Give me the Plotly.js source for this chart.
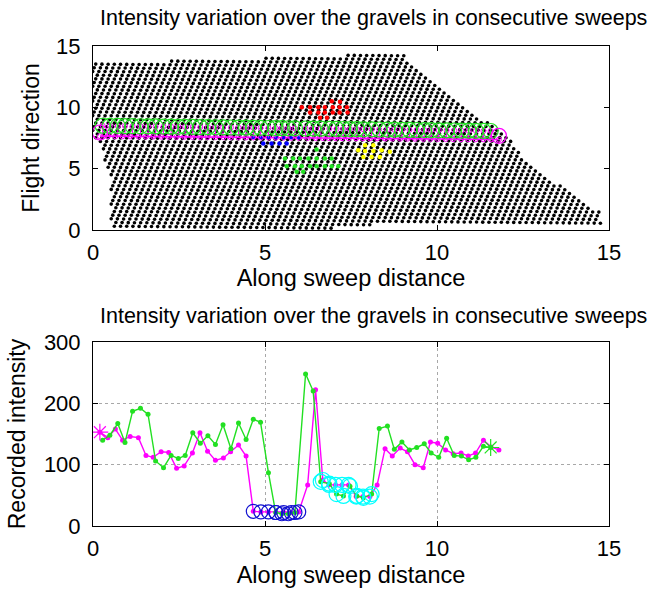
<!DOCTYPE html>
<html>
<head>
<meta charset="utf-8">
<script src="https://cdn.plot.ly/plotly-3.0.1.min.js"></script>
<style>html,body{margin:0;padding:0;background:#fff;}#chart{width:663px;height:592px;}</style>
</head>
<body>
<div id="chart"></div>
<script>
// ---------------- DATA ----------------
// Bottom panel: recorded intensity along the two consecutive sweeps
const magentaX = [0.2, 0.43, 0.65, 0.86, 1.08, 1.32, 1.54, 1.75, 1.98, 2.2, 2.43, 2.65, 2.89, 3.11, 3.33, 3.56, 3.79, 4.0, 4.23, 4.45, 4.66, 4.88, 5.1, 5.32, 5.54, 5.76, 5.98, 6.24, 6.47, 6.68, 6.86, 7.05, 7.24, 7.43, 7.65, 7.85, 8.05, 8.26, 8.49, 8.7, 8.93, 9.14, 9.36, 9.6, 9.81, 10.02, 10.25, 10.47, 10.7, 10.91, 11.12, 11.35, 11.57, 11.8];
const magentaV = [153, 144, 158, 140, 146, 144, 115, 112, 121, 120, 94, 98, 119, 152, 122, 107, 111, 121, 132, 114, 24, 23, 23, 22, 22, 22, 23, 67, 222, 75, 67, 67, 67, 67, 48, 48, 48, 67, 126, 114, 127, 121, 100, 95, 137, 135, 124, 118, 119, 114, 119, 140, 129, 124];
const greenX = [0.28, 0.49, 0.72, 0.93, 1.15, 1.38, 1.6, 1.82, 2.05, 2.27, 2.48, 2.68, 2.9, 3.12, 3.34, 3.56, 3.78, 4.01, 4.23, 4.45, 4.66, 4.87, 5.1, 5.31, 5.49, 5.68, 5.87, 6.18, 6.4, 6.62, 6.87, 7.08, 7.28, 7.47, 7.67, 7.86, 8.1, 8.32, 8.56, 8.76, 8.98, 9.2, 9.41, 9.63, 9.83, 10.05, 10.28, 10.5, 10.71, 10.92, 11.13, 11.35, 11.56];
const greenV = [140, 148, 167, 136, 187, 192, 182, 106, 95, 115, 110, 115, 152, 135, 147, 133, 165, 126, 168, 141, 174, 169, 87, 22, 20, 20, 22, 248, 220, 72, 69, 52, 49, 65, 49, 46, 52, 159, 163, 125, 137, 124, 128, 134, 119, 112, 143, 115, 114, 108, 112, 130, 128];
// indices of the points marked with blue / cyan circles
const blueMagentaIdx = [20, 21, 22, 23, 24, 25, 26];
const blueGreenIdx = [23, 24, 25, 26];
const cyanMagentaIdx = [29, 30, 31, 32, 33, 34, 35, 36];
const cyanGreenIdx = [29, 30, 31, 32, 33, 34, 35, 36];

// Top panel: outline of the scanned point cloud and its sampling
const cloudOutlineX = [0.0, 0.05, 2.0, 5.0, 7.5, 9.0, 9.3, 10.3, 11.5, 12.2, 12.8, 13.8, 14.75, 14.75, 8.5, 7.2, 4.1, 0.6, 0.5, 0.5, 0.3, 0.15, -0.05, -0.05];
const cloudOutlineY = [13.2, 13.6, 13.75, 14.0, 14.25, 14.35, 13.5, 11.1, 8.7, 7.1, 4.9, 3.3, 1.4, 0.55, 0.55, 0.15, 0.1, 0.15, 1.1, 4.2, 6.2, 7.2, 8.0, 13.0];
const cloudSpacing = [0.18, 0.3];     // along-sweep spacing, sweep-to-sweep spacing
const sweepTilt = -0.025;             // y drift per unit along-sweep distance

// sweep rows drawn with circles (start / end y)
const greenRowY = [8.5, 8.07];        // at greenX[0], greenX[last]
const magentaRowY = [7.65, 7.38];     // at magentaX[0], magentaX[last]

// coloured patches of the point cloud
const redX = [6.94, 7.18, 6.07, 6.31, 6.55, 6.74, 6.97, 7.17, 7.38, 6.31, 6.55, 6.74, 6.97, 7.17, 7.4, 6.6, 6.8];
const redY = [10.5, 10.45, 10.0, 10.0, 10.0, 10.0, 10.0, 10.0, 10.0, 9.57, 9.57, 9.57, 9.57, 9.57, 9.57, 9.16, 9.16];
const greenPatchX = [6.5, 5.58, 5.82, 6.02, 6.26, 6.5, 6.74, 6.94, 5.63, 5.87, 6.07, 6.31, 6.5, 6.74, 6.94, 7.13, 5.92, 6.11];
const greenPatchY = [6.56, 5.83, 5.83, 5.83, 5.83, 5.83, 5.83, 5.83, 5.2, 5.2, 5.2, 5.2, 5.2, 5.2, 5.2, 5.2, 4.74, 4.74];
const yellowX = [7.91, 8.15, 7.71, 7.91, 8.15, 8.39, 8.63, 7.86, 8.1, 8.34];
const yellowY = [6.91, 6.91, 6.5, 6.45, 6.45, 6.5, 6.37, 5.96, 5.96, 5.96];
const blueX = [4.95, 5.19, 5.42, 5.63];
const blueY = [7.05, 7.05, 7.05, 7.05];

const xTicks = [0, 5, 10, 15];
const yTicksTop = [0, 5, 10, 15];
const yTicksBottom = [0, 100, 200, 300];
const titleText = 'Intensity variation over the gravels in consecutive sweeps';

// ---------------- BUILD ----------------
function inside(px, py, xs, ys) {
  let c = false;
  for (let i = 0, j = xs.length - 1; i < xs.length; j = i++) {
    if (((ys[i] > py) !== (ys[j] > py)) &&
        (px < (xs[j] - xs[i]) * (py - ys[i]) / (ys[j] - ys[i]) + xs[i])) c = !c;
  }
  return c;
}
const cloudX = [], cloudY = [];
const [dx, dy] = cloudSpacing;
for (let k = 0; k < 60; k++) {
  const y0 = 0.15 + k * dy;
  const off = (k * 0.045) % dx;
  for (let x = -0.1 + off; x <= 15; x += dx) {
    const y = y0 + sweepTilt * (x - 7);
    if (inside(x, y, cloudOutlineX, cloudOutlineY)) { cloudX.push(x); cloudY.push(y); }
  }
}
function rowY(xs, ends) {
  const x0 = xs[0], x1 = xs[xs.length - 1];
  return xs.map(x => ends[0] + (ends[1] - ends[0]) * (x - x0) / (x1 - x0));
}
const gRowY = rowY(greenX, greenRowY);
const mRowY = rowY(magentaX, magentaRowY);
const mx0 = magentaX[0], mx1 = magentaX[magentaX.length - 1];
const stemLen = greenX.map((x, i) => gRowY[i] - (magentaRowY[0] + (magentaRowY[1] - magentaRowY[0]) * (x - mx0) / (mx1 - mx0)));

const MAG = '#ff00ff', GRN = '#22e022', BLU = '#1010d0', CYN = '#00ffff';
const pick = (arr, idx) => idx.map(i => arr[i]);

const traces = [
  // ---- top panel ----
  {x: cloudX, y: cloudY, type: 'scatter', mode: 'markers', xaxis: 'x', yaxis: 'y',
   marker: {color: '#000', size: 3.6}, hoverinfo: 'skip'},
  {x: redX, y: redY, type: 'scatter', mode: 'markers', marker: {color: '#ff0000', size: 4.5}},
  {x: greenPatchX, y: greenPatchY, type: 'scatter', mode: 'markers', marker: {color: '#22e022', size: 4.5}},
  {x: yellowX, y: yellowY, type: 'scatter', mode: 'markers', marker: {color: '#ffff00', size: 4.5}},
  {x: blueX, y: blueY, type: 'scatter', mode: 'markers', marker: {color: '#0000ff', size: 4.5}},
  {x: magentaX, y: mRowY, type: 'scatter', mode: 'lines+markers',
   line: {color: MAG, width: 1.6}, marker: {symbol: 'circle-open', color: MAG, size: 5, line: {width: 1}}},
  {x: pick(magentaX, blueMagentaIdx), y: pick(mRowY, blueMagentaIdx), type: 'scatter', mode: 'markers',
   marker: {color: '#0000ff', size: 3.5}},
  {x: greenX, y: gRowY, type: 'scatter', mode: 'markers',
   marker: {symbol: 'circle-open', color: MAG, size: 5, line: {width: 1}},
   error_y: {type: 'data', symmetric: false, array: greenX.map(() => 0), arrayminus: stemLen, color: MAG, thickness: 1, width: 0}},
  {x: greenX, y: gRowY, type: 'scatter', mode: 'markers',
   marker: {symbol: 'circle-open', color: GRN, size: 15, line: {width: 1.2}}},
  {x: [magentaX[0], magentaX[magentaX.length - 1]], y: [mRowY[0] + 0.3, mRowY[mRowY.length - 1] + 0.3],
   type: 'scatter', mode: 'markers', marker: {symbol: 'circle-open', color: MAG, size: 15, line: {width: 1.2}}},
  // ---- bottom panel ----
  {x: magentaX, y: magentaV, type: 'scatter', mode: 'lines+markers', xaxis: 'x2', yaxis: 'y2',
   line: {color: MAG, width: 1.4}, marker: {color: MAG, size: 5}},
  {x: greenX, y: greenV, type: 'scatter', mode: 'lines+markers', xaxis: 'x2', yaxis: 'y2',
   line: {color: GRN, width: 1.4}, marker: {color: GRN, size: 5}},
  {x: pick(magentaX, blueMagentaIdx).concat(pick(greenX, blueGreenIdx)),
   y: pick(magentaV, blueMagentaIdx).concat(pick(greenV, blueGreenIdx)),
   type: 'scatter', mode: 'markers', xaxis: 'x2', yaxis: 'y2',
   marker: {symbol: 'circle-open', color: BLU, size: 14, line: {width: 1.2}}},
  {x: pick(magentaX, cyanMagentaIdx).concat(pick(greenX, cyanGreenIdx)),
   y: pick(magentaV, cyanMagentaIdx).concat(pick(greenV, cyanGreenIdx)),
   type: 'scatter', mode: 'markers', xaxis: 'x2', yaxis: 'y2',
   marker: {symbol: 'circle-open', color: CYN, size: 15, line: {width: 1.2}}},
  {x: [magentaX[0]], y: [magentaV[0]], type: 'scatter', mode: 'markers', xaxis: 'x2', yaxis: 'y2',
   marker: {symbol: 'asterisk-open', color: MAG, size: 14, line: {color: MAG, width: 1.2}}},
  {x: [greenX[greenX.length - 1]], y: [greenV[greenV.length - 1]], type: 'scatter', mode: 'markers', xaxis: 'x2', yaxis: 'y2',
   marker: {symbol: 'asterisk-open', color: GRN, size: 14, line: {color: GRN, width: 1.2}}}
];

const W = 663, H = 592;
const baseAxis = {
  ticks: 'inside', ticklen: 5, tickwidth: 1, tickcolor: '#000', showline: true, mirror: 'allticks',
  linecolor: '#000', linewidth: 1, zeroline: false, automargin: false,
  tickfont: {size: 22, color: '#000'}
};
const xLab = {ticklabelstandoff: 3};
const yLab = {ticklabelstandoff: 7};
const gridOn = {showgrid: true, gridcolor: '#a8a8a8', griddash: 'dot', gridwidth: 1};

const layout = {
  width: W, height: H, margin: {l: 0, r: 0, t: 0, b: 0},
  paper_bgcolor: '#fff', plot_bgcolor: '#fff', showlegend: false, hovermode: false,
  font: {family: 'Liberation Sans, Arial, sans-serif', size: 22, color: '#000'},
  xaxis: Object.assign({}, baseAxis, xLab, {domain: [93 / W, 609 / W], range: [0, 15], anchor: 'y', tickvals: xTicks, showgrid: false,
    title: {text: 'Along sweep distance', font: {size: 23.5}, standoff: 4}}),
  yaxis: Object.assign({}, baseAxis, yLab, {domain: [(H - 230) / H, (H - 46) / H], range: [0, 15], anchor: 'x', tickvals: yTicksTop, showgrid: false,
    title: {text: 'Flight direction', font: {size: 23}, standoff: 10}}),
  xaxis2: Object.assign({}, baseAxis, xLab, gridOn, {domain: [93 / W, 609 / W], range: [0, 15], anchor: 'y2', tickvals: xTicks,
    title: {text: 'Along sweep distance', font: {size: 23.5}, standoff: 6}}),
  yaxis2: Object.assign({}, baseAxis, yLab, gridOn, {domain: [(H - 526) / H, (H - 342) / H], range: [0, 300], anchor: 'x2', tickvals: yTicksBottom,
    title: {text: 'Recorded intensity', font: {size: 23}, standoff: 11}}),
  annotations: [
    {text: titleText, xref: 'paper', yref: 'paper', x: 373 / W, y: 1 - 18 / H, xanchor: 'center', yanchor: 'middle', showarrow: false, font: {size: 21.5}},
    {text: titleText, xref: 'paper', yref: 'paper', x: 373 / W, y: 1 - 316 / H, xanchor: 'center', yanchor: 'middle', showarrow: false, font: {size: 21.5}}
  ]
};

Plotly.newPlot('chart', traces, layout, {staticPlot: true, displayModeBar: false});
</script>
</body>
</html>
